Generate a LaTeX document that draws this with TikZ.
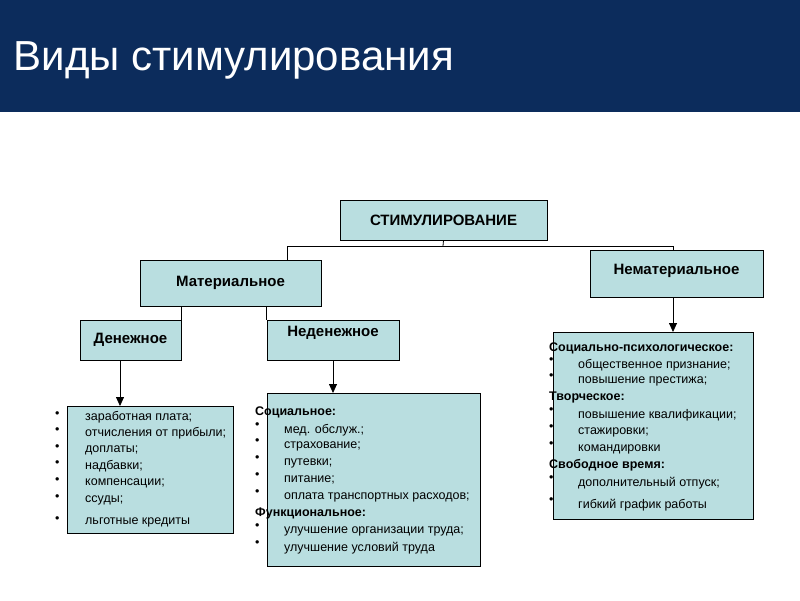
\documentclass[tikz,border=0pt]{standalone}
\usepackage{fontspec}
\setmainfont{Liberation Sans}
\usetikzlibrary{positioning,arrows.meta}
\definecolor{navy}{RGB}{12,44,92}
\definecolor{teal}{RGB}{185,222,224}
\tikzset{
	box/.style={draw, fill=teal, inner sep=0pt, line width=0.8pt},
	head/.style={font=\fontsize{15}{18}\selectfont\bfseries},
	item/.style={anchor=west, inner sep=0pt, font=\fontsize{12.5}{15}\selectfont},
	heading/.style={anchor=west, inner sep=0pt, font=\fontsize{12.5}{15}\selectfont\bfseries},
	dot/.style={anchor=west, inner sep=0pt, font=\fontsize{12.5}{15}\selectfont},
	link/.style={line width=0.8pt},
	arr/.style={line width=0.8pt, -{Triangle[length=9pt,width=8pt]}}
}
\begin{document}
\begin{tikzpicture}[x=1pt,y=-1pt]
	\useasboundingbox (0,0) rectangle (800,600);
	% title bar
	\fill [navy] (0,0) rectangle (800,112);
	\node [anchor=west, text=white, font=\fontsize{42}{48}\selectfont] (title) at (10,60) {Виды стимулирования};
	% boxes
	\node [box, head, minimum width=207pt, minimum height=40pt] (root) at (443.5,220) {СТИМУЛИРОВАНИЕ};
	\node [box, head, minimum width=181pt, minimum height=46pt] (mat) at (230.5,283) {Материальное};
	\node [box, head, minimum width=173pt, minimum height=47pt, text height=24pt, text depth=23pt, anchor=north] (nemat) at (676.5,250) {Нематериальное};
	\node [box, head, minimum width=101pt, minimum height=40pt] (den) at (130.5,340) {Денежное};
	\node [box, head, minimum width=132pt, minimum height=40pt, text height=16pt, text depth=24pt] (neden) at (333,340) {Неденежное};
	\node [box, minimum width=166pt, minimum height=127pt, anchor=north west] (denlist) at (67,406) {};
	\node [box, minimum width=213pt, minimum height=173pt, anchor=north west] (nedenlist) at (267,393) {};
	\node [box, minimum width=200pt, minimum height=187pt, anchor=north west] (nematlist) at (553,332) {};
	% connectors
	\coordinate (fork) at (443,246);
	\draw [link] (root.south) -- (fork);
	\draw [link] (mat.north -| 287,0) -- (287,246) -- (673,246) -- (nemat.north -| 673,0);
	\draw [link] (den.north east) -- (den.north east |- mat.south);
	\draw [link] (neden.north west) -- (neden.north west |- mat.south);
	\draw [arr] (den.south -| 120,0) -- (denlist.north -| 120,0);
	\draw [arr] (neden.south) -- (nedenlist.north -| neden.south);
	\draw [arr] (nemat.south -| 673,0) -- (nematlist.north -| 673,0);
	% money list
	\foreach \t/\y [count=\i] in {заработная плата;/417, отчисления от прибыли;/433, доплаты;/450, надбавки;/466, компенсации;/483, ссуды;/500, льготные кредиты/522} {
		\node [dot] (db\i) at (55,\y-2) {•};
		\node [item] (dt\i) at (85,\y) {\t};
	}
	% non-money list
	\node [heading] (soc) at (255,412) {Социальное:};
	\foreach \t/\y [count=\i] in {мед. обслуж.;/430, страхование;/446, путевки;/463, питание;/480, оплата транспортных расходов;/497, улучшение организации труда;/531, улучшение условий труда/548} {
		\node [dot] (nb\i) at (255,\y-4) {•};
		\node [item] (nt\i) at (284,\y) {\t};
	}
	\node [heading] (func) at (255,513) {Функциональное:};
	% non-material list
	\node [heading] (psy) at (549,348) {Социально-психологическое:};
	\node [heading] (cre) at (549,397) {Творческое:};
	\node [heading] (free) at (549,465) {Свободное время:};
	\foreach \t/\y [count=\i] in {общественное признание;/365, повышение престижа;/381, повышение квалификации;/415, стажировки;/432, командировки/449, дополнительный отпуск;/483, гибкий график работы/505} {
		\node [dot] (pb\i) at (549,\y-4) {•};
		\node [item] (pt\i) at (578,\y) {\t};
	}
\end{tikzpicture}
\end{document}
